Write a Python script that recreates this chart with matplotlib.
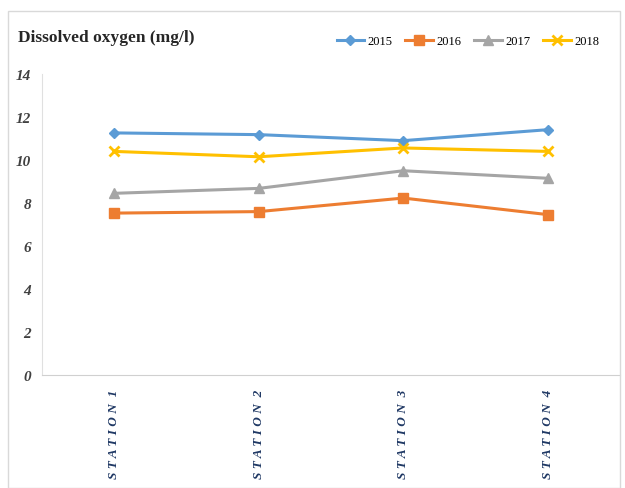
import matplotlib
matplotlib.use('Agg')
from matplotlib import pyplot as plt
from matplotlib.patches import Rectangle

stations = ['STATION 1', 'STATION 2', 'STATION 3', 'STATION 4']
do_2015 = [11.26, 11.18, 10.90, 11.41]
do_2016 = [7.53, 7.60, 8.23, 7.46]
do_2017 = [8.45, 8.68, 9.50, 9.15]
do_2018 = [10.40, 10.15, 10.56, 10.40]
years = ['2015', '2016', '2017', '2018']

plt.rcParams['font.family'] = ['Liberation Serif', 'DejaVu Serif']

fig = plt.figure(figsize=(6.25, 4.89), dpi=100)
fig.patches.append(Rectangle((8 / 625, 0), 612 / 625, 477 / 489, transform=fig.transFigure,
                             fill=False, edgecolor='#d9d9d9', linewidth=1))

ax = fig.add_axes([42 / 625, 113 / 489, 578 / 625, 301 / 489])

styles = [
    (do_2015, '#5B9BD5', 'D', 5),
    (do_2016, '#ED7D31', 's', 7),
    (do_2017, '#A5A5A5', '^', 7),
    (do_2018, '#FFC000', 'x', 7),
]
x = range(len(stations))
for (vals, col, mk, ms), yr in zip(styles, years):
    ax.plot(x, vals, color=col, linewidth=2.2, marker=mk, markersize=ms,
            markeredgewidth=2 if mk == 'x' else 1, label=yr)

# spread the letters of the station names out along the axis
spaced = [' '.join(s.replace(' ', '')[:-1]) + '  ' + s[-1] for s in stations]

ax.set_xlim(-0.5, 3.5)
ax.set_ylim(0, 14)
ax.set_yticks(range(0, 15, 2))
ax.set_xticks(list(x))
ax.set_xticklabels(spaced, rotation=90, fontsize=9.5, fontstyle='italic',
                   fontweight='bold', color='#1f3864', va='top')
for lbl in ax.get_yticklabels():
    lbl.set_fontstyle('italic')
    lbl.set_fontweight('bold')
    lbl.set_fontsize(11)
    lbl.set_color('#404040')
ax.tick_params(axis='both', length=0)
ax.tick_params(axis='y', pad=8)
ax.tick_params(axis='x', pad=10)

for side in ['top', 'right']:
    ax.spines[side].set_visible(False)
ax.spines['left'].set_color('#e0e0e0')
ax.spines['bottom'].set_color('#d0d0d0')

fig.text(18 / 625, 1 - 38 / 489, 'Dissolved oxygen (mg/l)', fontsize=12.5,
         fontweight='bold', va='center', ha='left', color='#262626')

fig.legend(loc='center', bbox_to_anchor=(468 / 625, 1 - 42 / 489), ncol=4, frameon=False,
           fontsize=9, handlelength=2.2, columnspacing=1.0, handletextpad=0.3)

plt.savefig('out.png', dpi=100)
